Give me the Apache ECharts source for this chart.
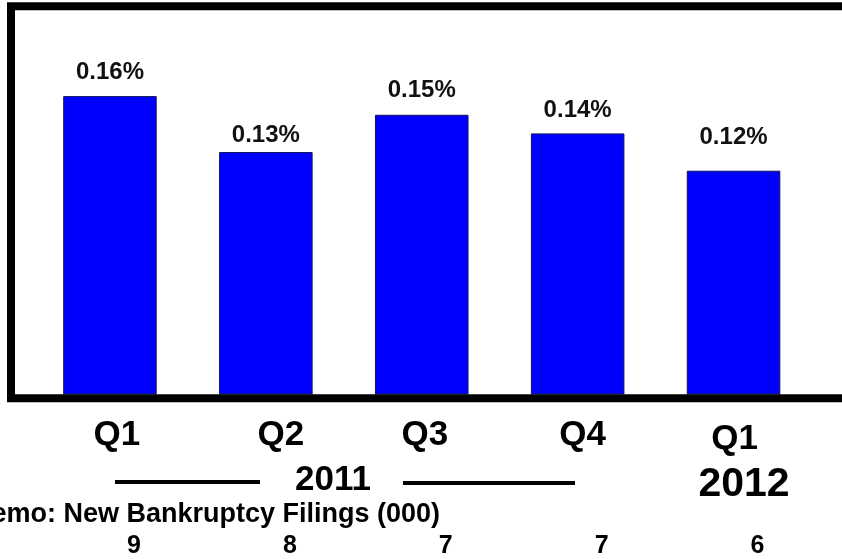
<!DOCTYPE html>
<html>
<head>
<meta charset="utf-8">
<script src="https://cdn.jsdelivr.net/npm/echarts@6/dist/echarts.min.js"></script>
<style>
  html, body { margin: 0; padding: 0; background: #fff; }
  #main { width: 842px; height: 559px; }
</style>
</head>
<body>
<div id="main"></div>
<script>
var quarters = ['Q1', 'Q2', 'Q3', 'Q4', 'Q1'];
var rates = [0.16, 0.13, 0.15, 0.14, 0.12];
var filings = [9, 8, 7, 7, 6];
var memoTitle = 'Memo: New Bankruptcy Filings (000)';
var yearLabels = ['2011', '2012'];

// label nudges (styling only)
var labelGap = [12, 5, 12, 11, 21];
var qShiftX = [7, 15, 3, 5, 1];
var qShiftY = [0, 0, 0, 0, 4];

var FONT = '"Liberation Sans", Arial, sans-serif';

var chart = echarts.init(document.getElementById('main'));

var qRich = {};
for (var i = 0; i < quarters.length; i++) {
    qRich['q' + i] = {
        fontSize: 35, fontWeight: 'bold', fontFamily: FONT, color: '#000',
        padding: [qShiftY[i], 0, 0, qShiftX[i] * 2]
    };
}

var barData = [];
for (var a = 0; a < rates.length; a++) {
    barData.push({
        value: rates[a],
        label: {distance: labelGap[a]}
    });
}

var option = {
    backgroundColor: '#fff',
    animation: false,
    grid: {
        left: 32,
        right: 30.5,
        top: 21.5,
        bottom: 164.5,
        containLabel: false,
        outerBoundsMode: 'none'
    },
    xAxis: [
        {
            type: 'category',
            data: quarters,
            axisLine: {show: false},
            axisTick: {show: false},
            axisLabel: {
                margin: 23,
                formatter: function (v, idx) {
                    return '{q' + idx + '|' + v + '}';
                },
                rich: qRich
            }
        },
        {
            type: 'category',
            data: quarters,
            position: 'bottom',
            axisLine: {show: false},
            axisTick: {show: false},
            axisLabel: {
                margin: 139,
                formatter: function (v, idx) {
                    return '{f|' + filings[idx] + '}';
                },
                rich: {
                    f: {fontSize: 25, fontWeight: 'bold', fontFamily: FONT, color: '#000', padding: [0, 0, 0, 48]}
                }
            }
        }
    ],
    yAxis: {
        type: 'value',
        min: 0,
        max: 0.2,
        show: false,
        splitLine: {show: false}
    },
    series: [
        {
            type: 'bar',
            data: barData,
            barWidth: '60%',
            itemStyle: {
                color: '#0000ff',
                borderColor: '#14145a',
                borderWidth: 1
            },
            label: {
                show: true,
                position: 'top',
                fontSize: 24,
                fontWeight: 'bold',
                fontFamily: FONT,
                color: '#111',
                formatter: function (p) {
                    return p.value.toFixed(2) + '%';
                }
            }
        }
    ],
    graphic: [
        // plot frame (right side runs off the page)
        {
            type: 'rect',
            z: 100,
            shape: {x: 11, y: 6.3, width: 900, height: 392},
            style: {fill: null, stroke: '#000', lineWidth: 8}
        },
        {
            type: 'line',
            shape: {x1: 115, y1: 482, x2: 260, y2: 482},
            style: {stroke: '#000', lineWidth: 4}
        },
        {
            type: 'line',
            shape: {x1: 403, y1: 483, x2: 575, y2: 483},
            style: {stroke: '#000', lineWidth: 4}
        },
        {
            type: 'text',
            x: 333,
            y: 480,
            style: {text: yearLabels[0], font: 'bold 35px ' + FONT, fill: '#000', align: 'center', verticalAlign: 'middle'}
        },
        {
            type: 'text',
            x: 744,
            y: 485,
            style: {text: yearLabels[1], font: 'bold 41px ' + FONT, fill: '#000', align: 'center', verticalAlign: 'middle'}
        },
        {
            type: 'text',
            x: -31,
            y: 515,
            style: {text: memoTitle, font: 'bold 27px ' + FONT, fill: '#000', align: 'left', verticalAlign: 'middle'}
        }
    ]
};
chart.setOption(option);
</script>
</body>
</html>
